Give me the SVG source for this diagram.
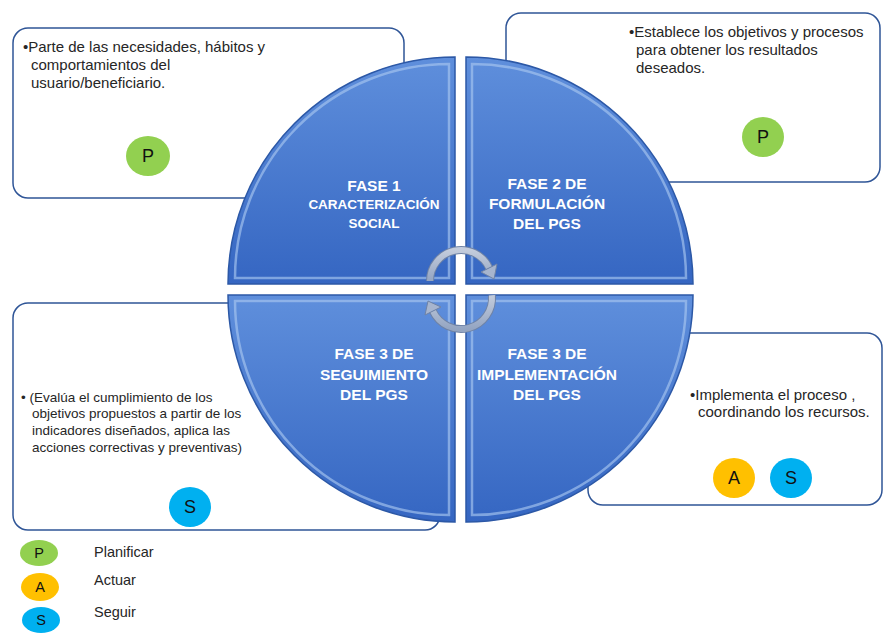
<svg xmlns="http://www.w3.org/2000/svg" width="883" height="633" viewBox="0 0 883 633">
<defs>
<linearGradient id="qg" x1="0" y1="0" x2="0" y2="1">
<stop offset="0" stop-color="#5F8FDC"/>
<stop offset="1" stop-color="#3566C2"/>
</linearGradient>
<linearGradient id="ag" x1="0" y1="0" x2="0" y2="1">
<stop offset="0" stop-color="#C3CCDC"/>
<stop offset="1" stop-color="#94A5C2"/>
</linearGradient>
<style>
.box{fill:#fff;stroke:#2F5597;stroke-width:1.5}
.body{font-family:"Liberation Sans",Arial,sans-serif;font-size:15px;fill:#262626}
.small{font-size:13.5px}
.q{fill:url(#qg);stroke:#2C58A6;stroke-width:1.5}
.bevel{fill:none;stroke:#A8C6F0;stroke-width:2.5;stroke-opacity:0.65}
.qt{font-family:"Liberation Sans",Arial,sans-serif;font-weight:bold;fill:#fff;text-anchor:middle;font-size:15.5px}
.qs{font-size:13.5px}
.badge{font-family:"Liberation Sans",Arial,sans-serif;font-size:18px;fill:#111;text-anchor:middle}
.leg{font-family:"Liberation Sans",Arial,sans-serif;font-size:14.5px;fill:#262626}
.legb{font-family:"Liberation Sans",Arial,sans-serif;font-size:14.5px;fill:#111;text-anchor:middle}
.arcO{fill:none;stroke:#6F83A6;stroke-width:8}
.arcI{fill:none;stroke:url(#ag);stroke-width:6}
.head{fill:#A7B5CE;stroke:#6F83A6;stroke-width:1}
.P{fill:#92D050}.A{fill:#FFC000}.S{fill:#00B0F0}
</style>
</defs>
<rect width="883" height="633" fill="#fff"/>

<g id="box1">
<rect class="box" x="13" y="28" width="391" height="170" rx="15"/>
<text class="body" x="23" y="52">•Parte de las necesidades, hábitos  y</text>
<text class="body" x="31" y="70">comportamientos del</text>
<text class="body" x="31" y="88">usuario/beneficiario.</text>
<ellipse class="P" cx="148" cy="156" rx="22" ry="20"/>
<text class="badge" x="148" y="162">P</text>
</g>

<g id="box2">
<rect class="box" x="506" y="13" width="374" height="169" rx="15"/>
<text class="body" x="629" y="37">•Establece los objetivos y procesos</text>
<text class="body" x="636" y="55">para obtener los resultados</text>
<text class="body" x="636" y="73">deseados.</text>
<ellipse class="P" cx="763" cy="137" rx="21" ry="20"/>
<text class="badge" x="763" y="143">P</text>
</g>

<g id="box3">
<rect class="box" x="13" y="303" width="427" height="227" rx="15"/>
<text class="body small" x="21" y="402">• (Evalúa el cumplimiento de los</text>
<text class="body small" x="32" y="418">objetivos propuestos a partir de los</text>
<text class="body small" x="32" y="435">indicadores diseñados, aplica las</text>
<text class="body small" x="32" y="452">acciones correctivas y preventivas)</text>
<ellipse class="S" cx="190" cy="507" rx="21" ry="20"/>
<text class="badge" x="190" y="513">S</text>
</g>

<g id="box4">
<rect class="box" x="588" y="333" width="294" height="172" rx="15"/>
<text class="body" x="690" y="400">•Implementa el proceso ,</text>
<text class="body" x="698" y="417">coordinando los recursos.</text>
<ellipse class="A" cx="734" cy="478" rx="21" ry="20"/>
<text class="badge" x="734" y="484">A</text>
<ellipse class="S" cx="791" cy="478" rx="21" ry="20"/>
<text class="badge" x="791" y="484">S</text>
</g>

<g id="fase1">
<path class="q" d="M455,284 L228,284 A227,227 0 0 1 455,57 Z"/>
<path class="bevel" d="M449,278 L235,278 A214,214 0 0 1 449,64 Z"/>
<text class="qt" x="374" y="191">FASE 1</text>
<text class="qt qs" x="374" y="209">CARACTERIZACIÓN</text>
<text class="qt qs" x="374" y="228">SOCIAL</text>
</g>

<g id="fase2">
<path class="q" d="M466,284 L466,57 A227,227 0 0 1 693,284 Z"/>
<path class="bevel" d="M472,278 L472,64 A214,214 0 0 1 686,278 Z"/>
<text class="qt" x="547" y="189">FASE 2 DE</text>
<text class="qt" x="547" y="209">FORMULACIÓN</text>
<text class="qt" x="547" y="229">DEL PGS</text>
</g>

<g id="fase3s">
<path class="q" d="M455,295 L228,295 A227,227 0 0 0 455,522 Z"/>
<path class="bevel" d="M449,301 L235,301 A214,214 0 0 0 449,515 Z"/>
<text class="qt" x="374" y="359">FASE 3 DE</text>
<text class="qt" x="374" y="380">SEGUIMIENTO</text>
<text class="qt" x="374" y="400">DEL PGS</text>
</g>

<g id="fase3i">
<path class="q" d="M466,295 L693,295 A227,227 0 0 1 466,522 Z"/>
<path class="bevel" d="M472,301 L686,301 A214,214 0 0 1 472,515 Z"/>
<text class="qt" x="547" y="359">FASE 3 DE</text>
<text class="qt" x="547" y="380">IMPLEMENTACIÓN</text>
<text class="qt" x="547" y="400">DEL PGS</text>
</g>

<g id="connectors">
<path class="arcO" d="M430,281 A31,31 0 0 1 489.1,267.9"/>
<path class="arcI" d="M430,281 A31,31 0 0 1 489.1,267.9"/>
<polygon class="head" points="497,264 481,272 494,279"/>
<path class="arcO" d="M491.9,295.3 A31,31 0 0 1 432.9,311.1"/>
<path class="arcI" d="M491.9,295.3 A31,31 0 0 1 432.9,311.1"/>
<polygon class="head" points="425,315 441,307 428,301"/>
</g>

<g id="legend">
<ellipse class="P" cx="39" cy="553" rx="19" ry="13"/>
<text class="legb" x="39" y="558">P</text>
<ellipse class="A" cx="40" cy="587" rx="19" ry="14"/>
<text class="legb" x="40" y="592">A</text>
<ellipse class="S" cx="41" cy="620" rx="19" ry="13"/>
<text class="legb" x="41" y="625">S</text>
<text class="leg" x="94" y="557">Planificar</text>
<text class="leg" x="94" y="585">Actuar</text>
<text class="leg" x="94" y="617">Seguir</text>
</g>
</svg>
